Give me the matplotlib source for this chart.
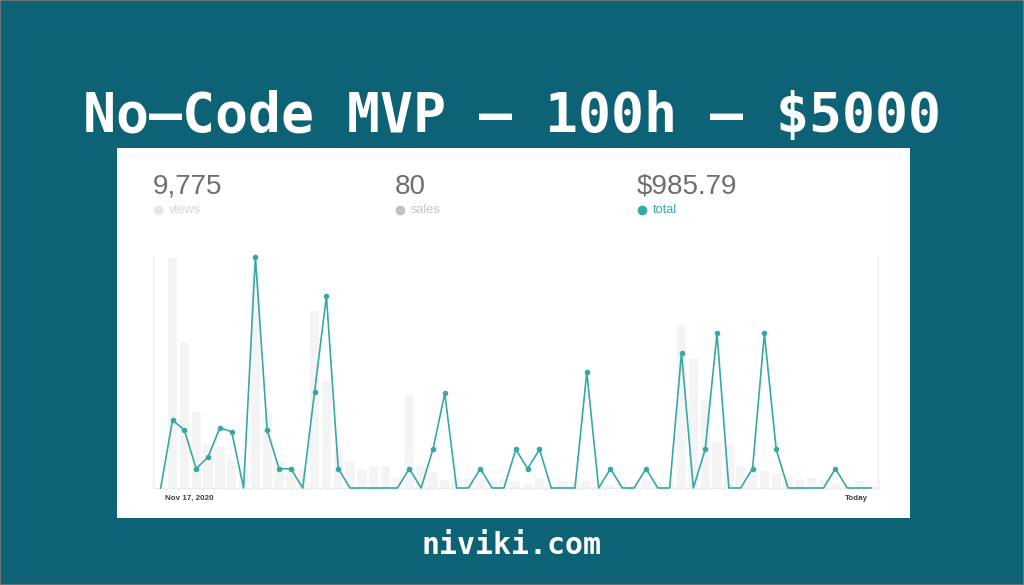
import matplotlib
matplotlib.use("Agg")
import matplotlib.pyplot as plt
from matplotlib.patches import Rectangle
import numpy as np

# ---- data ----
views = [2, 1018, 640, 338, 194, 182, 124, 85, 955, 332, 121, 85, 85, 781, 474,
         172, 121, 79, 96, 96, 50, 409, 96, 69, 34, 49, 40, 41, 28, 40, 31,
         16, 44, 15, 32, 28, 32, 13, 12, 25, 12, 38, 21, 9, 721, 569, 387,
         203, 194, 99, 69, 75, 60, 46, 34, 43, 34, 22, 18, 32, 7]
totals = [0, 35.2, 30.0, 10.0, 16.0, 31.2, 29.1, 0, 119.6, 29.8, 10.0, 10.0, 0,
          49.7, 99.4, 10.0, 0, 0, 0, 0, 0, 10.0, 0, 20.0, 49.0, 0, 0, 10.0, 0,
          0, 20.0, 10.0, 20.0, 0, 0, 0, 60.0, 0, 10.0, 0, 0, 10.0, 0, 0, 70.0,
          0, 20.0, 80.0, 0, 0, 10.0, 80.0, 20.0, 0, 0, 0, 0, 10.0, 0, 0, 0]
stat_values = ["9,775", "80", "$985.79"]
stat_labels = ["views", "sales", "total"]
start_label = "Nov 17, 2020"
end_label = "Today"
title = "No\u2013Code MVP \u2013 100h \u2013 $5000"
footer = "niviki.com"

BG = "#0e6275"
TEAL = "#38a7a8"
W, H = 1024, 585

fig = plt.figure(figsize=(W / 100, H / 100), dpi=100, facecolor=BG)

def fx(px):
    return px / W

def fy(py):
    return 1 - py / H

# white panel
fig.patches.append(Rectangle((fx(117), fy(518)), fx(910) - fx(117), fy(148) - fy(518),
                             transform=fig.transFigure, facecolor="white",
                             edgecolor="none", zorder=-10))
# thin outer border
fig.patches.append(Rectangle((0, 0), 1, 1, transform=fig.transFigure,
                             facecolor="none", edgecolor="#7a7a7a", lw=1.2, zorder=5))

fig.text(0.5, fy(117), title, ha="center", va="center", color="white",
         fontsize=39.5, fontweight="bold", family="DejaVu Sans Mono")
fig.text(0.5, fy(545), footer, ha="center", va="center", color="white",
         fontsize=21.5, fontweight="bold", family="DejaVu Sans Mono")

# stats header
stat_x = [153, 395, 637]
dot_colors = ["#e6e6e6", "#c2c2c2", TEAL]
lab_colors = ["#d4d4d4", "#c4c4c4", TEAL]
for x, v, l, dc, lc in zip(stat_x, stat_values, stat_labels, dot_colors, lab_colors):
    fig.text(fx(x), fy(194), v, ha="left", va="baseline", color="#6f6f6f",
             fontsize=20, family="Liberation Sans")
    fig.text(fx(x + 15.5), fy(209.5), l, ha="left", va="center", color=lc,
             fontsize=9.2, family="Liberation Sans")
    fig.lines.append(plt.Line2D([fx(x + 4.5)], [fy(209.5)], marker="o", markersize=6,
                                color=dc, transform=fig.transFigure))

# chart axes
ax = fig.add_axes([fx(153), fy(488), fx(878) - fx(153), fy(257) - fy(488)])
ax.set_facecolor("none")
x = np.arange(len(views))
ax.bar(x, views, width=0.79, color="#f4f4f4", zorder=1)
ax.set_xlim(-0.65, len(views) - 1 + 0.6)
ax.set_ylim(0, 1021)
ax.spines["top"].set_visible(False)
for s in ["left", "right"]:
    ax.spines[s].set_color("#eeeeee")
    ax.spines[s].set_linewidth(1)
ax.spines["bottom"].set_color("#ececec")
ax.spines["bottom"].set_linewidth(1)
ax.set_xticks(x + 0.5)
ax.tick_params(axis="x", length=1.5, width=0.8, color="#e6e6e6", labelbottom=False)
ax.set_yticks([])

ax2 = ax.twinx()
ax2.set_ylim(0, 119.6)
ax2.set_yticks([])
for s in ax2.spines.values():
    s.set_visible(False)
ax2.plot(x, totals, color=TEAL, lw=1.2, zorder=3, clip_on=False)
nz = [i for i, t in enumerate(totals) if t > 0]
ax2.plot([x[i] for i in nz], [totals[i] for i in nz], "o", color=TEAL,
         markersize=3.0, zorder=4, clip_on=False)

fig.text(fx(165), fy(500), start_label, ha="left", va="baseline", color="#404040",
         fontsize=5.8, fontweight="bold", family="Liberation Sans")
fig.text(fx(868), fy(500), end_label, ha="right", va="baseline", color="#404040",
         fontsize=5.8, fontweight="bold", family="Liberation Sans")

fig.savefig("out.png", dpi=100, facecolor=BG)
